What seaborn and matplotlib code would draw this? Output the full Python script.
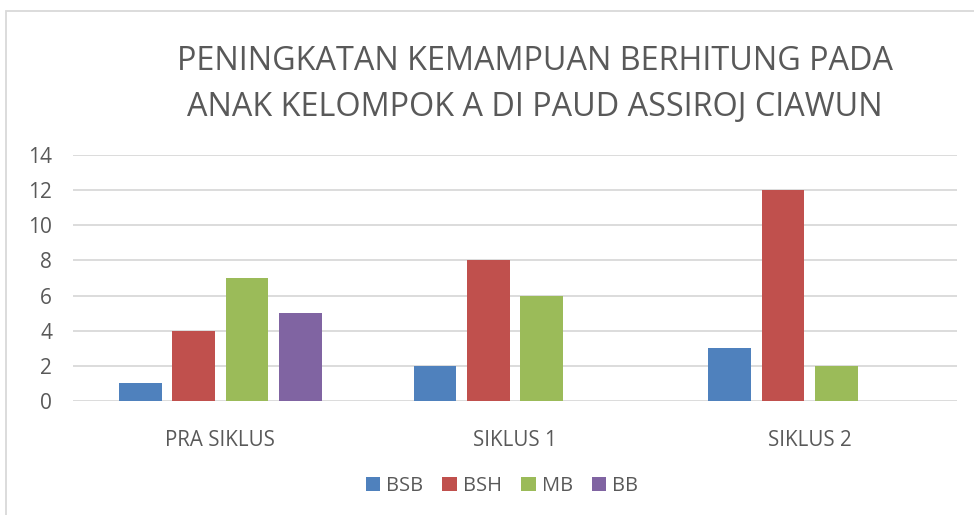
import matplotlib
matplotlib.use("Agg")
import matplotlib.pyplot as plt
import seaborn as sns
import pandas as pd
from matplotlib.patches import Rectangle

categories = ["PRA SIKLUS", "SIKLUS 1", "SIKLUS 2"]
series = ["BSB", "BSH", "MB", "BB"]
bsb = [1, 2, 3]
bsh = [4, 8, 12]
mb = [7, 6, 2]
bb = [5, 0, 0]
colors = ["#4F81BD", "#C0504D", "#9BBB59", "#8064A2"]

rows = []
for name, vals in zip(series, [bsb, bsh, mb, bb]):
    for c, v in zip(categories, vals):
        rows.append({"cat": c, "series": name, "value": v})
df = pd.DataFrame(rows)

sns.set_theme(style="white")
plt.rcParams["font.family"] = ["Open Sans", "DejaVu Sans"]
txt = "#595959"

fig = plt.figure(figsize=(9.74, 5.15), dpi=100)
fig.patch.set_facecolor("white")
fig.add_artist(Rectangle((5.5 / 974, -0.1), 2, (515 - 10.5) / 515 + 0.1,
                         transform=fig.transFigure, fill=False,
                         edgecolor="#D9D9D9", linewidth=1.3))

ax = fig.add_axes([73 / 974, 114 / 515, (957 - 73) / 974, (401 - 155) / 515])
sns.barplot(data=df, x="cat", y="value", hue="series", order=categories,
            hue_order=series, palette=colors, width=0.724, gap=0.2,
            saturation=1, ax=ax, legend=True, linewidth=0)
ax.set_xlim(-0.5, 2.5)
ax.set_ylim(0, 14)
ax.set_yticks(range(0, 15, 2))
ax.yaxis.grid(True, color="#D9D9D9", linewidth=1.3)
ax.set_axisbelow(True)
for s in ["top", "right", "left", "bottom"]:
    ax.spines[s].set_visible(False)
ax.set_xlabel("")
ax.set_ylabel("")
ax.tick_params(axis="y", labelsize=15, labelcolor=txt, length=0, pad=15)
ax.tick_params(axis="x", labelsize=14.8, labelcolor=txt, length=0, pad=21)

handles, labels = ax.get_legend_handles_labels()
ax.legend_.remove()
fig.legend(handles, labels, loc="center", bbox_to_anchor=(502 / 974, 1 - 486 / 515),
           ncol=4, frameon=False, fontsize=14.5, labelcolor=txt,
           handlelength=0.72, handleheight=0.72, handletextpad=0.3, columnspacing=0.95)

fig.text(535 / 974, 1 - 61 / 515, "PENINGKATAN KEMAMPUAN BERHITUNG PADA",
         ha="center", va="center", fontsize=23.3, color=txt)
fig.text(535 / 974, 1 - 107 / 515, "ANAK KELOMPOK A DI PAUD ASSIROJ CIAWUN",
         ha="center", va="center", fontsize=23.3, color=txt)

fig.savefig("out.png", dpi=100)
